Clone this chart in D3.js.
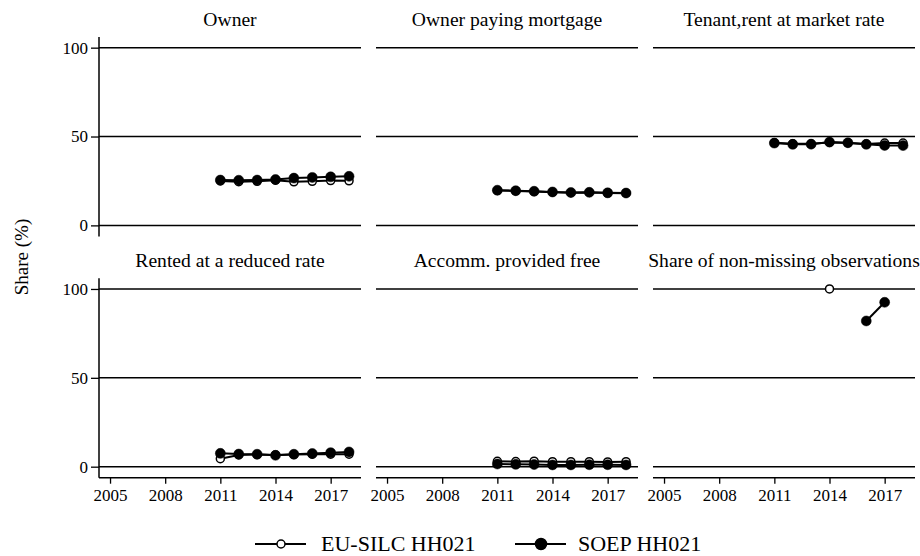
<!DOCTYPE html>
<html>
<head>
<meta charset="utf-8">
<script src="https://cdn.jsdelivr.net/npm/d3@7"></script>
<style>
  html, body { margin: 0; padding: 0; background: #fff; }
  svg { display: block; }
  text { font-family: "Liberation Serif", "Times New Roman", serif; fill: #000; }
</style>
</head>
<body>
<svg id="chart" width="920" height="556"></svg>
<script>
// Survey years covered by both sources
const years = [2011, 2012, 2013, 2014, 2015, 2016, 2017, 2018];

// Panel titles (tenure status categories)
const panelTitles = [
  "Owner",
  "Owner paying mortgage",
  "Tenant,rent at market rate",
  "Rented at a reduced rate",
  "Accomm. provided free",
  "Share of non-missing observations"
];

// EU-SILC HH021 shares (%), one row per panel, aligned with `years`
const euSilc = [
  [25.0, 24.6, 24.8, 25.4, 24.5, 24.8, 25.2, 25.1],
  [19.6, 19.4, 19.0, 18.7, 18.4, 18.5, 18.2, 18.1],
  [46.5, 45.9, 45.9, 46.7, 46.4, 45.8, 46.3, 46.3],
  [4.5, 6.6, 6.8, 6.6, 6.8, 7.0, 7.0, 7.0],
  [3.0, 2.9, 3.1, 2.8, 2.8, 2.8, 2.7, 2.8],
  [null, null, null, 100, null, null, null, null]
];

// SOEP HH021 shares (%)
const soep = [
  [25.5, 25.4, 25.5, 25.8, 26.6, 27.0, 27.3, 27.6],
  [19.8, 19.5, 19.2, 18.8, 18.5, 18.6, 18.3, 18.2],
  [46.3, 45.6, 45.7, 46.9, 46.5, 45.6, 45.0, 44.9],
  [7.5, 7.1, 7.0, 6.4, 7.0, 7.4, 7.9, 8.3],
  [1.5, 1.3, 1.2, 1.0, 1.0, 1.1, 1.1, 1.0],
  [null, null, null, null, null, 82, 92.5, null]
];

// Axis ticks
const yTicks = [0, 50, 100];
const xTicks = [2005, 2008, 2011, 2014, 2017];

const seriesNames = ["EU-SILC HH021", "SOEP HH021"];

// ---- layout ----
const colX = [99, 376, 653];
const rowY = [37, 278.3];
const panelW = 262;
const panelH = 199.4;

const x = d3.scaleLinear().domain([2004.4, 2018.65]).range([0, panelW]);
const y = d3.scaleLinear().domain([-6.2, 106]).range([panelH, 0]);

const svg = d3.select("#chart");

const line = d3.line()
  .defined(d => d.v != null)
  .x(d => x(d.year))
  .y(d => y(d.v));

panelTitles.forEach((title, i) => {
  const col = i % 3, row = Math.floor(i / 3);
  const g = svg.append("g").attr("transform", `translate(${colX[col]},${rowY[row]})`);

  // panel title
  g.append("text")
    .attr("x", panelW / 2)
    .attr("y", -11)
    .attr("text-anchor", "middle")
    .style("font-size", "19.6px")
    .text(title);

  // horizontal gridlines
  g.selectAll("line.grid").data(yTicks).join("line")
    .attr("class", "grid")
    .attr("x1", 0).attr("x2", panelW)
    .attr("y1", d => y(d)).attr("y2", d => y(d))
    .attr("stroke", "#000").attr("stroke-width", 1.5);

  // y axis on the left column only
  if (col === 0) {
    const ya = g.append("g").call(d3.axisLeft(y).tickValues(yTicks).tickSize(8).tickPadding(3).tickFormat(d3.format("d")));
    ya.select(".domain").attr("stroke-width", 1.5).attr("d", `M0,0V${panelH}`);
    ya.selectAll(".tick line").attr("stroke-width", 1.3);
    ya.selectAll(".tick text").style("font-size", "17px").attr("font-family", null);
  }

  // x axis on the bottom row only
  if (row === 1) {
    const xa = g.append("g").attr("transform", `translate(0,${panelH})`)
      .call(d3.axisBottom(x).tickValues(xTicks).tickSize(6).tickPadding(5).tickFormat(d3.format("d")));
    xa.select(".domain").attr("stroke-width", 1.5).attr("d", `M0,0H${panelW}`);
    xa.selectAll(".tick line").attr("stroke-width", 1.3);
    xa.selectAll(".tick text").style("font-size", "17px").attr("font-family", null);
  }

  // series: EU-SILC (open circles) first, SOEP (filled) on top
  [euSilc[i], soep[i]].forEach((vals, s) => {
    const pts = years.map((yr, k) => ({ year: yr, v: vals[k] }));
    g.append("path")
      .attr("d", line(pts))
      .attr("fill", "none")
      .attr("stroke", "#000")
      .attr("stroke-width", 2);
    g.selectAll(null).data(pts.filter(d => d.v != null)).join("circle")
      .attr("cx", d => x(d.year))
      .attr("cy", d => y(d.v))
      .attr("r", s === 0 ? 4 : 5)
      .attr("fill", s === 0 ? "#fff" : "#000")
      .attr("stroke", "#000")
      .attr("stroke-width", s === 0 ? 1.5 : 0.5);
  });
});

// y axis title
svg.append("text")
  .attr("transform", "translate(28,257) rotate(-90)")
  .attr("text-anchor", "middle")
  .style("font-size", "19px")
  .text("Share (%)");

// legend
const legendItems = [
  { name: seriesNames[0], x0: 255, open: true },
  { name: seriesNames[1], x0: 515, open: false }
];
const lg = svg.append("g");
legendItems.forEach(it => {
  lg.append("line")
    .attr("x1", it.x0).attr("x2", it.x0 + 51)
    .attr("y1", 544).attr("y2", 544)
    .attr("stroke", "#000").attr("stroke-width", 2);
  lg.append("circle")
    .attr("cx", it.x0 + 26).attr("cy", 544)
    .attr("r", it.open ? 4 : 5.5)
    .attr("fill", it.open ? "#fff" : "#000")
    .attr("stroke", "#000").attr("stroke-width", 1.5);
  lg.append("text")
    .attr("x", it.x0 + (it.open ? 66 : 63))
    .attr("y", 551)
    .style("font-size", "22px")
    .text(it.name);
});
</script>
</body>
</html>
